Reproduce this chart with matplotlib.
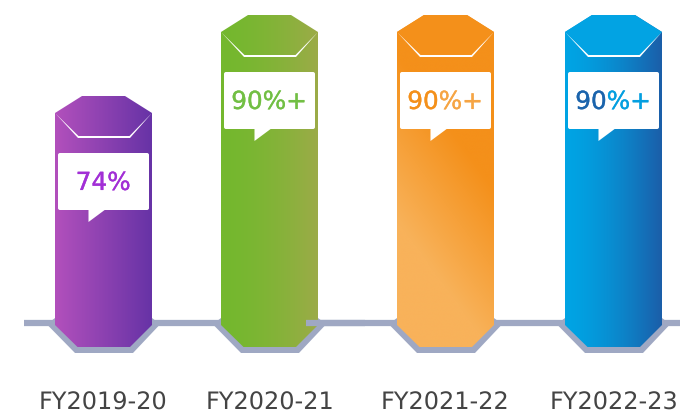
import numpy as np
import matplotlib
matplotlib.use("Agg")
import matplotlib.pyplot as plt
import matplotlib.patheffects as pe
from matplotlib.colors import LinearSegmentedColormap
from matplotlib.patches import Polygon, FancyBboxPatch, Rectangle

plt.rcParams["text.hinting"] = "no_hinting"
plt.rcParams["text.hinting_factor"] = 1

# =========================
# Data
# =========================

categories = ["FY2019-20", "FY2020-21", "FY2021-22", "FY2022-23"]
values = [74, 90, 90, 90]
value_labels = ["74%", "90%+", "90%+", "90%+"]

# =========================
# Layout (pixels) and colours
# =========================

W, H = 680, 418
BASE_PX = 347          # bottom of the columns
PX_PER_UNIT = 81 / 16  # 74 -> 90 moves the top by 81 px
BASE_VALUE = 74 - 251 / PX_PER_UNIT

centers = [103.5, 269.5, 445.5, 613.5]
label_x = [103, 270, 445, 614]
grad_left = ["#B250BC", "#74B82E", "#F4901A", "#00A4E4"]
grad_right = ["#6733A6", "#9CAB48", "#F8B25A", "#1B5EA9"]
grad_power = [1.0, 1.6, 1.0, 1.5]
cap_colors = [None, None, "#F4901A", "#02A3E3"]
text_colors = ["#A22FD6", "#72BF44", "#F4901A", "#1B64AC"]
text_colors_right = [None, None, "#F6A544", "#049FE0"]
GRAY = "#9FA8C3"
u = 1 / PX_PER_UNIT

fig = plt.figure(figsize=(W / 100, H / 100), dpi=100)
ax = fig.add_axes([0, 0, 1, 1])
ax.set_xlim(0, W)
ax.set_ylim(BASE_VALUE - (H - BASE_PX) * u, BASE_VALUE + BASE_PX * u)
ax.axis("off")


def yv(px):
    # pixel row -> value on the y axis
    return BASE_VALUE + (BASE_PX - px) * u


def draw_line(x0, x1, z=1):
    ax.plot([x0, x1], [yv(323), yv(323)], color=GRAY, lw=4.5,
            solid_capstyle="butt", zorder=z)


def value_text(x, y, s, color):
    # thin stroke to get the medium weight of the original
    return ax.text(x, y, s, color=color, fontsize=17.8, family="DejaVu Sans",
                   ha="center", va="center", zorder=5,
                   path_effects=[pe.withStroke(linewidth=0.25, foreground=color)])


# =========================
# Base line
# =========================

draw_line(24, W)

for i, val in enumerate(values):
    c = centers[i]
    hw = 48.5

    # gray cradle under the column
    cradle = [(c - hw, yv(318)), (c - 55, yv(323)), (c - 55, yv(326)), (c - 28.5, yv(353)),
              (c + 29.5, yv(353)), (c + 55, yv(326)), (c + 55, yv(323)), (c + hw, yv(318))]
    ax.add_patch(Polygon(cradle, closed=True, fc=GRAY, ec="none", zorder=1))

    # column with its gradient, clipped to the outline
    outline = [
        (c - hw, val - 17 * u),
        (c - 21.5, val),
        (c + 21.5, val),
        (c + hw, val - 17 * u),
        (c + hw, yv(325)),
        (c + 26.5, BASE_VALUE),
        (c - 26, BASE_VALUE),
        (c - hw, yv(325)),
    ]
    cmap = LinearSegmentedColormap.from_list("g", [grad_left[i], grad_right[i]])
    if i == 2:
        # the orange column fades to a paler tone towards the lower left
        yy, xx = np.mgrid[0:1:300j, 0:1:100j]
        t = np.clip((yy - 0.4 * xx - 0.12) / 0.5, 0, 1)
    else:
        t = (np.linspace(0, 1, 200) ** grad_power[i]).reshape(1, -1)
    im = ax.imshow(t, cmap=cmap, vmin=0, vmax=1, aspect="auto", origin="upper",
                   interpolation="bilinear",
                   extent=[c - hw, c + hw, BASE_VALUE, val], zorder=2)
    clip = Polygon(outline, closed=True, transform=ax.transData, fc="none", ec="none")
    ax.add_patch(clip)
    im.set_clip_path(clip)

    # flat coloured cap on the last two columns
    if cap_colors[i]:
        cap = [(c - hw, val - 17 * u), (c - 21.5, val), (c + 21.5, val),
               (c + hw, val - 17 * u), (c + 26, val - 41 * u), (c - 26, val - 41 * u)]
        ax.add_patch(Polygon(cap, closed=True, fc=cap_colors[i], ec="none", zorder=2.5))

    # white chevron under the cap
    chevron = [
        (c - hw, val - 17 * u),
        (c - 25.5, val - 42 * u),
        (c + 26.5, val - 42 * u),
        (c + hw, val - 17 * u),
        (c + 26, val - 40 * u),
        (c - 25, val - 40 * u),
    ]
    ax.add_patch(Polygon(chevron, closed=True, fc="white", ec="none", zorder=3))

    # callout box
    box_top = val - 57 * u
    box_h = 57 * u
    ax.add_patch(FancyBboxPatch(
        (c - 45.5 + 2, box_top - box_h + 2 * u), 91 - 4, box_h - 4 * u,
        boxstyle="round,pad=2", mutation_aspect=u,
        fc="white", ec="none", zorder=4))
    tail_y = box_top - box_h
    ax.add_patch(Polygon(
        [(c - 15, tail_y + 1 * u), (c - 15, tail_y - 12 * u), (c + 2.5, tail_y + 1 * u)],
        closed=True, fc="white", ec="none", zorder=4))

    txt_y = box_top - box_h / 2 - 1.5 * u
    txt = value_text(c, txt_y, value_labels[i], text_colors[i])
    if text_colors_right[i]:
        # label shifts to a second colour from the percent sign on
        split = c - 7
        left_clip = Rectangle((0, -1000), split, 3000, transform=ax.transData)
        right_clip = Rectangle((split, -1000), W, 3000, transform=ax.transData)
        txt.set_clip_path(left_clip)
        txt.set_clip_on(True)
        txt2 = value_text(c, txt_y, value_labels[i], text_colors_right[i])
        txt2.set_clip_path(right_clip)
        txt2.set_clip_on(True)

    ax.text(label_x[i], yv(409.5), categories[i], color="#444444", fontsize=17.3,
            family="DejaVu Sans", ha="center", va="baseline", zorder=5)

# stray piece of line over the green column
draw_line(306, 365, z=6)

fig.savefig("out.png", dpi=100)
plt.close(fig)
